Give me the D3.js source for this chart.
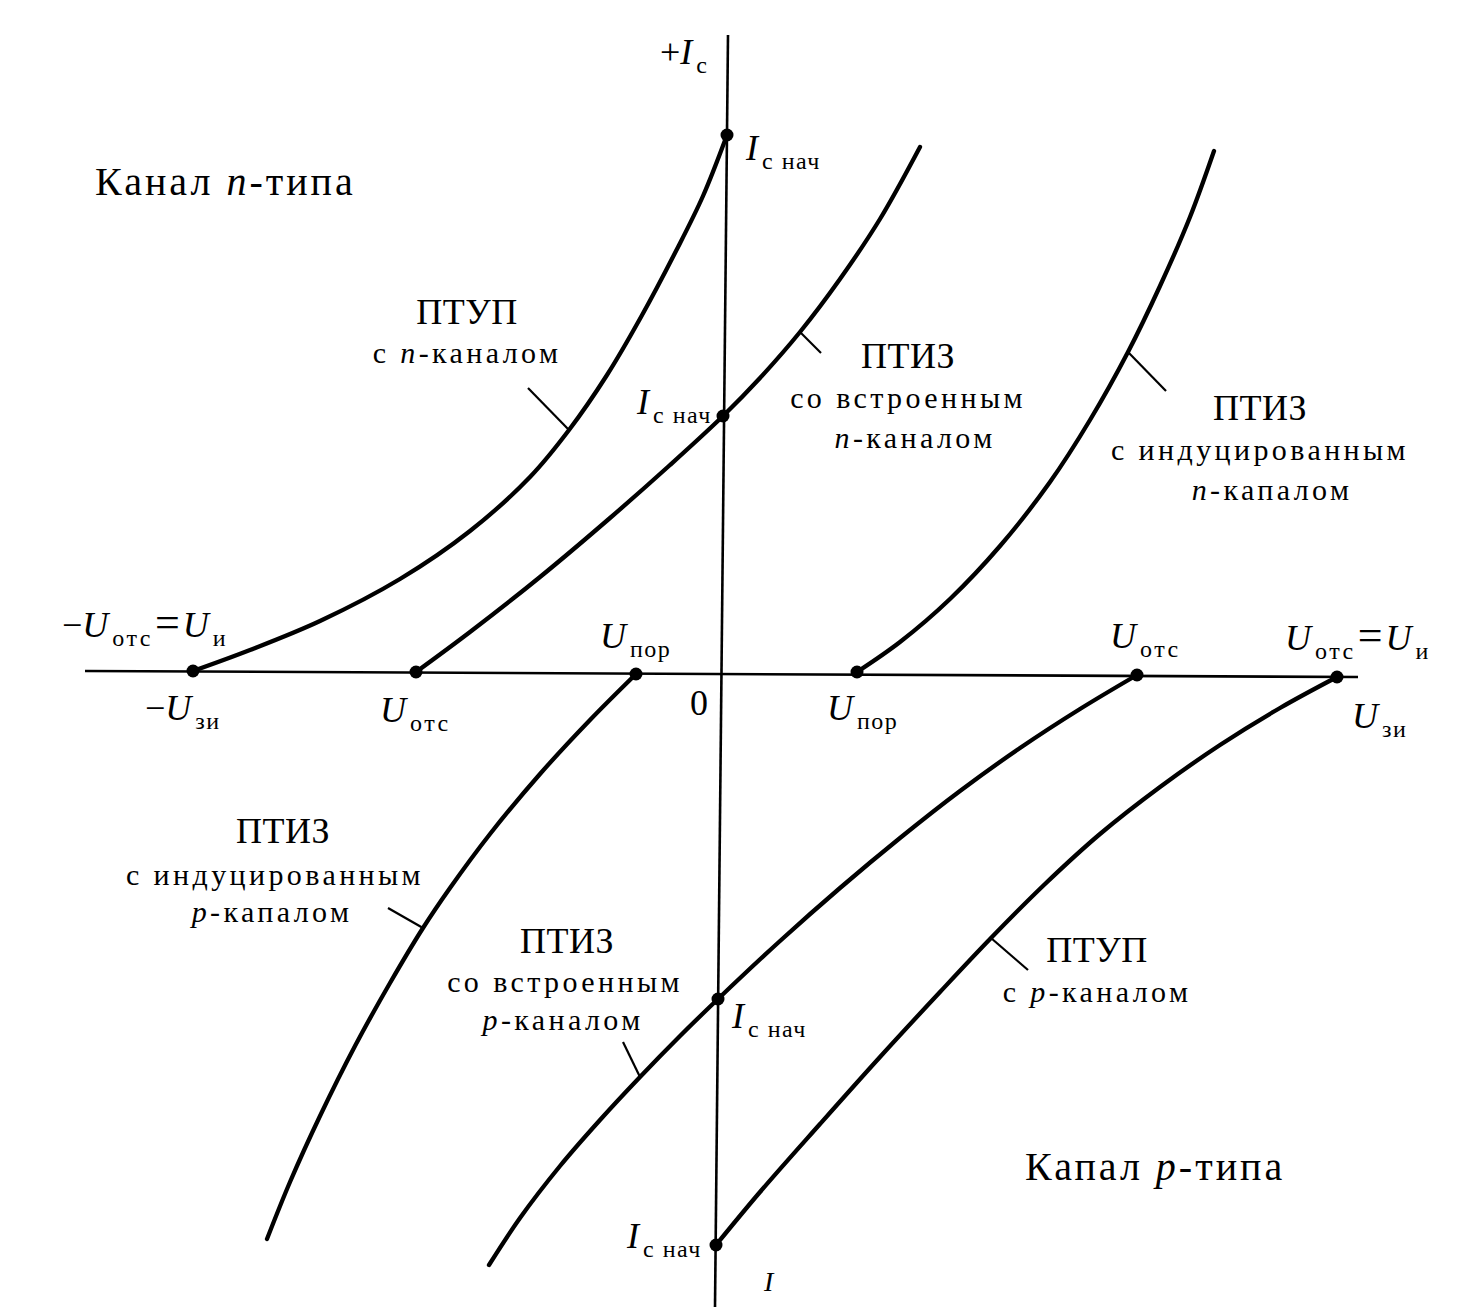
<!DOCTYPE html>
<html><head><meta charset="utf-8">
<script src="https://cdn.jsdelivr.net/npm/d3@7/dist/d3.min.js"></script>
<style>html,body{margin:0;padding:0;background:#fff;}svg{display:block;}</style>
</head><body>
<svg id="chart" width="1462" height="1307"></svg>
<script>
// ---- data (units: arbitrary voltage / current, origin at intersection of axes) ----
const axisH = [[-6.36, 0.01], [6.37, -0.05]];
const axisV = [[0.07, 6.37], [-0.06, -6.35]];

const curveJfetN = [[-5.28,0.01],[-4.71,0.22],[-4.01,0.51],[-3.21,0.93],[-2.51,1.41],[-1.91,1.95],[-1.52,2.42],[-1.14,2.97],[-0.80,3.55],[-0.45,4.21],[-0.18,4.76],[0.06,5.37]];
const curveBuiltN = [[-3.05,0],[-2.51,0.40],[-1.81,0.95],[-1.11,1.54],[-0.51,2.07],[0.02,2.56],[0.39,2.94],[0.79,3.40],[1.19,3.93],[1.59,4.53],[1.99,5.25]];
const curveInducedN = [[1.36,0],[1.79,0.30],[2.29,0.73],[2.79,1.26],[3.29,1.90],[3.69,2.52],[4.07,3.20],[4.39,3.86],[4.69,4.55],[4.93,5.21]];
const curveInducedP = [[-0.85,-0.02],[-1.31,-0.48],[-1.81,-1.02],[-2.31,-1.62],[-2.71,-2.16],[-2.98,-2.56],[-3.31,-3.11],[-3.66,-3.74],[-4.01,-4.44],[-4.31,-5.10],[-4.54,-5.67]];
const curveBuiltP = [[4.16,-0.03],[3.59,-0.37],[2.99,-0.76],[2.39,-1.19],[1.79,-1.66],[1.19,-2.16],[0.59,-2.69],[-0.03,-3.27],[-0.41,-3.64],[-0.81,-4.05],[-1.21,-4.48],[-1.61,-4.94],[-2.01,-5.46],[-2.32,-5.93]];
const curveJfetP = [[6.16,-0.05],[5.59,-0.36],[4.99,-0.73],[4.39,-1.15],[3.79,-1.62],[3.24,-2.12],[2.70,-2.66],[2.19,-3.20],[1.59,-3.85],[0.99,-4.52],[0.39,-5.20],[-0.05,-5.73]];
const curves = [curveJfetN, curveBuiltN, curveInducedN, curveInducedP, curveBuiltP, curveJfetP];

const dots = [[-5.28,0.01],[-3.05,0],[-0.85,-0.02],[1.36,0],[4.16,-0.03],[6.16,-0.05],[0.06,5.37],[0.02,2.56],[-0.03,-3.27],[-0.05,-5.73]];

const leaders = [
  [[-1.93,2.84],[-1.52,2.42]],
  [[0.79,3.40],[1.00,3.19]],
  [[4.07,3.20],[4.45,2.81]],
  [[-3.33,-2.36],[-2.98,-2.56]],
  [[-0.98,-3.70],[-0.81,-4.05]],
  [[2.70,-2.66],[3.07,-2.98]]
];

// caption texts: segments {t, it}
const captions = [
  {pos:[-2.54,3.48], big:1, segs:[{t:"ПТУП"}]},
  {pos:[-2.54,3.09], segs:[{t:"с "},{t:"n",it:1},{t:"-каналом"}]},
  {pos:[1.87,3.04], big:1, segs:[{t:"ПТИЗ"}]},
  {pos:[1.87,2.64], segs:[{t:"со встроенным"}]},
  {pos:[1.94,2.24], segs:[{t:"n",it:1},{t:"-каналом"}]},
  {pos:[5.39,2.52], big:1, segs:[{t:"ПТИЗ"}]},
  {pos:[5.39,2.12], segs:[{t:"с индуцированным"}]},
  {pos:[5.51,1.72], segs:[{t:"n",it:1},{t:"-капалом"}]},
  {pos:[-4.38,-1.71], big:1, segs:[{t:"ПТИЗ"}]},
  {pos:[-4.46,-2.13], segs:[{t:"с индуцированным"}]},
  {pos:[-4.49,-2.50], segs:[{t:"p",it:1},{t:"-капалом"}]},
  {pos:[-1.54,-2.81], big:1, segs:[{t:"ПТИЗ"}]},
  {pos:[-1.56,-3.20], segs:[{t:"со встроенным"}]},
  {pos:[-1.58,-3.58], segs:[{t:"p",it:1},{t:"-каналом"}]},
  {pos:[3.76,-2.90], big:1, segs:[{t:"ПТУП"}]},
  {pos:[3.76,-3.30], segs:[{t:"с "},{t:"p",it:1},{t:"-каналом"}]}
];
const regionTitles = [
  {pos:[-6.26,4.77], segs:[{t:"Канал "},{t:"n",it:1},{t:"-типа"}]},
  {pos:[3.04,-5.08], segs:[{t:"Капал "},{t:"p",it:1},{t:"-типа"}]}
];
// axis / point labels: it = italic main symbol, sub = subscript, eq = wide equals sign
const symLabels = [
  {pos:[-0.61,6.08], segs:[{t:"+"},{t:"I",it:1},{t:"с",sub:1}]},
  {pos:[0.25,5.12], segs:[{t:"I",it:1},{t:"с нач",sub:1}]},
  {pos:[-0.84,2.58], segs:[{t:"I",it:1},{t:"с нач",sub:1}]},
  {pos:[0.11,-3.56], segs:[{t:"I",it:1},{t:"с нач",sub:1}]},
  {pos:[-0.94,-5.76], segs:[{t:"I",it:1},{t:"с нач",sub:1}]},
  {pos:[-6.59,0.35], segs:[{t:"−"},{t:"U",it:1},{t:"отс",sub:1},{t:"=",eq:1},{t:"U",it:1},{t:"и",sub:1}]},
  {pos:[-5.76,-0.48], segs:[{t:"−"},{t:"U",it:1},{t:"зи",sub:1}]},
  {pos:[-3.41,-0.50], segs:[{t:"U",it:1},{t:"отс",sub:1}]},
  {pos:[-1.21,0.24], segs:[{t:"U",it:1},{t:"пор",sub:1}]},
  {pos:[-0.31,-0.43], segs:[{t:"0"}]},
  {pos:[1.06,-0.48], segs:[{t:"U",it:1},{t:"пор",sub:1}]},
  {pos:[3.89,0.24], segs:[{t:"U",it:1},{t:"отс",sub:1}]},
  {pos:[5.64,0.22], segs:[{t:"U",it:1},{t:"отс",sub:1},{t:"=",eq:1},{t:"U",it:1},{t:"и",sub:1}]},
  {pos:[6.31,-0.56], segs:[{t:"U",it:1},{t:"зи",sub:1}]},
  {pos:[0.43,-6.19], small:1, segs:[{t:"I",it:1}]}
];

// ---- scales ----
const W = 1462, H = 1307;
const x = d3.scaleLinear().domain([-7.21, 7.41]).range([0, W]);
const y = d3.scaleLinear().domain([6.72, -6.35]).range([0, H]);

const svg = d3.select("#chart");
svg.append("rect").attr("width", W).attr("height", H).attr("fill", "#fff");

const line = d3.line().x(d => x(d[0])).y(d => y(d[1]));
const smooth = d3.line().x(d => x(d[0])).y(d => y(d[1])).curve(d3.curveCatmullRom.alpha(0.5));

svg.append("path").attr("d", line(axisH)).attr("fill", "none").attr("stroke", "#000").attr("stroke-width", 2.6);
svg.append("path").attr("d", line(axisV)).attr("fill", "none").attr("stroke", "#000").attr("stroke-width", 2.6);

svg.selectAll(".curve").data(curves).join("path").attr("class", "curve")
  .attr("d", d => smooth(d)).attr("fill", "none").attr("stroke", "#000")
  .attr("stroke-width", 4.3).attr("stroke-linecap", "round");

svg.selectAll(".leader").data(leaders).join("path").attr("class", "leader")
  .attr("d", d => line(d)).attr("fill", "none").attr("stroke", "#000").attr("stroke-width", 2.2);

svg.selectAll(".dot").data(dots).join("circle").attr("class", "dot")
  .attr("cx", d => x(d[0])).attr("cy", d => y(d[1])).attr("r", 6.5).attr("fill", "#000");

const FONT = "'Liberation Serif', 'DejaVu Serif', serif";

function rich(item, size, anchor, spacing) {
  const t = svg.append("text").attr("x", x(item.pos[0])).attr("y", y(item.pos[1]))
    .attr("font-family", FONT).attr("font-size", size).attr("fill", "#000")
    .attr("text-anchor", anchor).attr("letter-spacing", spacing || 0)
    .style("white-space", "pre");
  item.segs.forEach(s => {
    t.append("tspan").text(s.t).attr("font-style", s.it ? "italic" : "normal");
  });
}

captions.forEach(c => c.big ? rich(c, 36, "middle", 0.5) : rich(c, 30, "middle", 3.4));
regionTitles.forEach(c => rich(c, 40, "start", 3));

symLabels.forEach(item => {
  const t = svg.append("text").attr("x", x(item.pos[0])).attr("y", y(item.pos[1]))
    .attr("font-family", FONT).attr("font-size", item.small ? 28 : 36).attr("fill", "#000")
    .style("white-space", "pre");
  let shifted = false;
  item.segs.forEach(s => {
    const ts = t.append("tspan").text(s.t);
    if (s.it) ts.attr("font-style", "italic");
    if (s.sub) {
      ts.attr("font-size", 24).attr("dx", 4).attr("letter-spacing", s.t === "отс" ? 2.5 : 1.5);
      if (!shifted) { ts.attr("dy", 9); shifted = true; }
    } else {
      if (shifted) { ts.attr("dy", -9); shifted = false; }
      if (s.eq) ts.attr("font-size", 44).attr("dx", 2).attr("letter-spacing", 3);
    }
  });
});
</script>
</body></html>
